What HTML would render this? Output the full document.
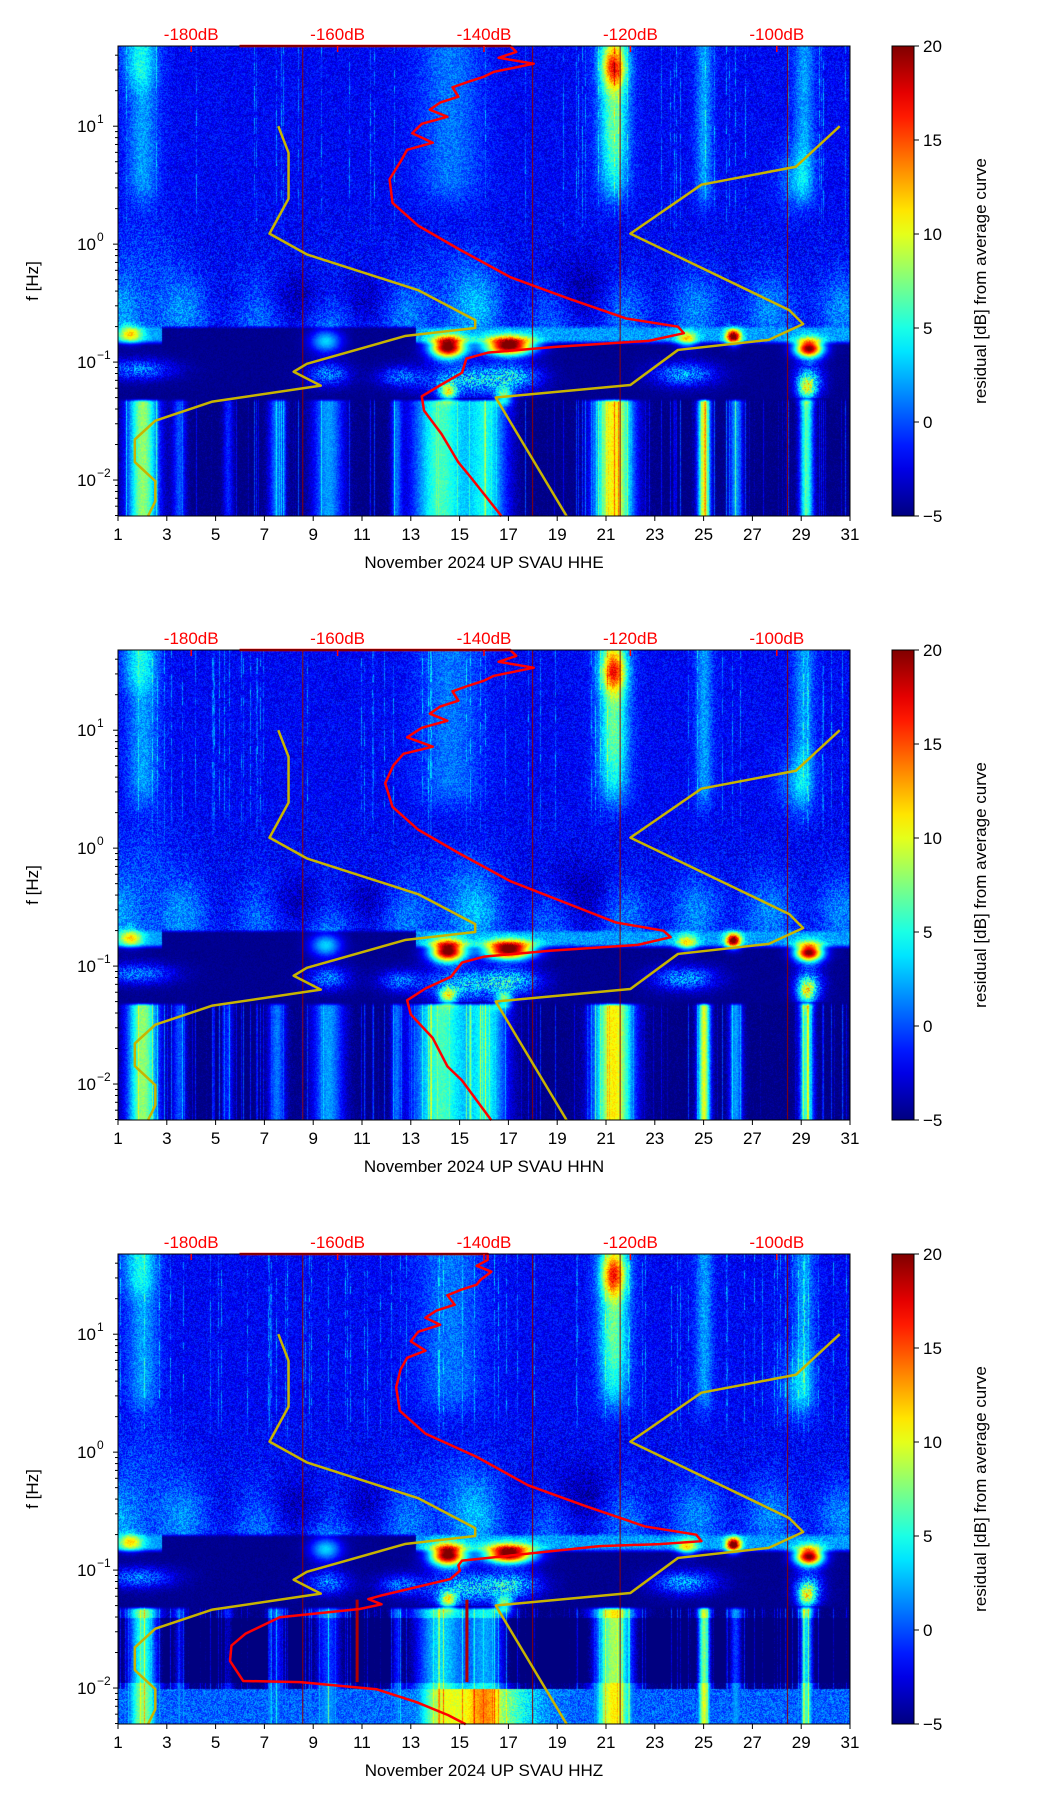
<!DOCTYPE html>
<html><head><meta charset="utf-8">
<style>
html,body{margin:0;padding:0;background:#fff;}
#wrap{position:relative;width:1052px;height:1806px;overflow:hidden;font-family:"Liberation Sans","DejaVu Sans",sans-serif;}
canvas{position:absolute;}
svg{position:absolute;left:0;top:0;}
</style></head>
<body>
<div id="wrap">
<canvas id="c0" width="732" height="470" style="left:118px;top:46px"></canvas>
<canvas id="c1" width="732" height="470" style="left:118px;top:650px"></canvas>
<canvas id="c2" width="732" height="470" style="left:118px;top:1254px"></canvas>
<svg id="s" width="1052" height="1806"></svg>
</div>
<script>
// ---- data ----
const panelTitles = ["November 2024 UP SVAU  HHE","November 2024 UP SVAU  HHN","November 2024 UP SVAU  HHZ"];
const dayTicks = [1,3,5,7,9,11,13,15,17,19,21,23,25,27,29,31];
const dbTicks = [-180,-160,-140,-120,-100];
const cbTicks = [-5,0,5,10,15,20];
const yDecades = [-2,-1,0,1];
const markerDays = [8.57,17.99,21.58,28.44];
const lowModelDb = [-168.1,-166.7,-166.7,-169.3,-164.2,-149.0,-141.2,-141.2,-150.8,-164.2,-166.0,-162.3,-177.1,-184.9,-187.7,-187.7,-184.9,-184.9,-185.9];
const lowModelLf = [1.0,0.774,0.386,0.089,-0.087,-0.39,-0.644,-0.711,-0.779,-1.015,-1.082,-1.20,-1.335,-1.497,-1.656,-1.848,-2.01,-2.18,-2.307];
const highModelDb = [-91.4,-97.4,-110.3,-120.0,-98.3,-96.4,-101.1,-113.5,-120.0,-138.4,-128.7];
const highModelLf = [1.0,0.656,0.504,0.089,-0.559,-0.677,-0.812,-0.897,-1.194,-1.30,-2.307];
const avgDb1 = [-173.4,-136.4,-135.6,-138,-133.2,-138.7,-140,-142,-144.3,-143.5,-146,-147.4,-145,-148.5,-149.8,-147,-150.5,-151.4,-152.9,-152.5,-149,-143.5,-136.4,-128.5,-120.6,-113.5,-112.7,-117.5,-130,-139.5,-142.4,-143,-145.8,-148.5,-148.2,-145.8,-143.5,-141.9,-137.6];
const avgLf1 = [1.68,1.68,1.63,1.58,1.53,1.46,1.42,1.38,1.33,1.25,1.2,1.14,1.08,1.02,0.94,0.86,0.8,0.70,0.55,0.35,0.157,-0.04,-0.28,-0.46,-0.63,-0.70,-0.755,-0.82,-0.87,-0.92,-0.97,-1.09,-1.19,-1.29,-1.41,-1.61,-1.85,-1.97,-2.307];
const avgDb2 = [-173.4,-136.4,-135.6,-138,-133.2,-138.7,-140,-142,-144.3,-143.5,-146,-147.4,-145,-148.5,-150.5,-147,-151,-152.4,-153.5,-152.5,-149,-143.5,-136.4,-129,-122,-115.5,-114.5,-119,-131,-140,-143,-144.5,-148,-150.5,-150,-147,-145,-143,-139];
const avgLf2 = avgLf1;
const avgDb3 = [-173.4,-139.5,-139.5,-141,-139,-140.5,-141,-143,-145,-144,-146.5,-148,-146,-149,-150,-148,-150.5,-151.4,-152,-151.5,-148,-141,-134,-126,-118,-111,-110.3,-116,-124.2,-143.0,-143.5,-143.3,-144.6,-154.2,-155.8,-154,-157,-167.9,-172.6,-174.5,-174.7,-172.9,-165.1,-154.7,-149.2,-144.9,-142.5];
const avgLf3 = [1.68,1.68,1.63,1.58,1.53,1.46,1.42,1.38,1.33,1.25,1.2,1.14,1.08,1.02,0.94,0.86,0.8,0.70,0.55,0.35,0.157,-0.04,-0.28,-0.46,-0.63,-0.70,-0.755,-0.78,-0.797,-0.92,-0.96,-1.006,-1.076,-1.218,-1.246,-1.29,-1.33,-1.40,-1.54,-1.64,-1.77,-1.94,-1.95,-2.01,-2.12,-2.23,-2.307];
const avgDb = [avgDb1,avgDb2,avgDb3];
const avgLf = [avgLf1,avgLf2,avgLf3];
const lowStripes = [[2,0.45,13],[3.5,0.2,5],[5.5,0.15,4],[7.5,0.25,6],[9.6,0.45,7],[12.4,0.15,5],[14.2,0.8,11],[16.1,0.6,9],[21.3,0.55,16],[25,0.18,15],[26.3,0.2,7],[29.2,0.2,11]];
const hotBlobs = [[14.5,-0.87,0.5,0.065,26],[17,-0.86,0.7,0.055,26],[29.3,-0.88,0.4,0.055,25],[26.2,-0.78,0.22,0.045,20],[24.3,-0.8,0.3,0.05,10],[1.5,-0.76,0.35,0.05,10],[9.5,-0.82,0.45,0.07,8],[14.5,-1.25,0.25,0.05,12],[16.8,-1.28,0.25,0.05,10],[29.2,-1.22,0.25,0.07,10]];
const midPatches = [[1.8,-1.06,1.0,0.06,7],[9.6,-1.1,0.6,0.07,7],[15.2,-1.15,1.2,0.1,9],[17.2,-1.12,0.8,0.08,8],[24.2,-1.1,0.9,0.07,8],[29.3,-1.15,0.4,0.1,9],[12.5,-1.12,0.6,0.06,6]];
const hiColumns = [[2,0.45,4],[14.6,0.9,3],[21.3,0.45,5],[25,0.25,4],[29.1,0.3,4]];

// ---- geometry ----
const PL=118, PW=732, PH=470, tops=[46,650,1254];
const LFTOP=1.68, LFBOT=-2.305;
const xDay = d => PL + (d-1)/30*PW;
const xDb = db => PL + (db+190)/100*PW;
const yLf = (lf,p) => tops[p] + (LFTOP-lf)/(LFTOP-LFBOT)*PH;

function jet(v){
  let t=(v+5)/25; t=Math.max(0,Math.min(1,t));
  const f=(a)=>Math.max(0,Math.min(1,a));
  return [f(1.5-Math.abs(4*t-3)),f(1.5-Math.abs(4*t-2)),f(1.5-Math.abs(4*t-1))].map(x=>Math.round(x*255));
}
function hash(a,b){let h=(a*374761393+b*668265263)|0;h=(h^(h>>>13))*1274126177|0;h=h^(h>>>16);return ((h>>>0)%10000)/10000;}
const g=(x,m,s)=>Math.exp(-((x-m)*(x-m))/(2*s*s));
const sm=(x,a,b)=>{let t=(x-a)/(b-a);t=Math.max(0,Math.min(1,t));return t*t*(3-2*t);};

function val(px,py,p){
  const d=1+px/PW*30, lf=LFTOP-py/PH*(LFTOP-LFBOT);
  const n=hash(px*7+p,py*13)*2-1, c=hash(px*31+p*7,5);
  let hi=-2.0+1.6*n;
  if(c>0.93) hi+=4*hash(px,py>>3);
  for(const s of hiColumns) hi+=s[2]*g(d,s[0],s[1])*sm(lf,0.1,0.6);
  hi+=10*g(d,21.3,0.35)*g(lf,1.5,0.12)+4*g(d,21.3,0.4)*sm(lf,0.3,1.0);
  hi+=3*g(d,28.7,0.5)*g(lf,0.55,0.2);
  hi+=3*g(d,1.8,0.5)*sm(lf,1.2,1.5);
  let mid=-2.0+2.0*n + 3.5*g(lf,-0.55,0.22)*(0.6+0.4*Math.sin(d*2.1)) + 2*g(d,15,1.2)*g(lf,-0.4,0.3) + 1.5*g(d,2,1);
  mid -= 2.5*g(lf,-0.45,0.15)*g(d,9.5,2.5);
  mid -= 2.5*g(d,19.5,1.5)*g(lf,-0.4,0.2);
  let v;
  if(lf>-0.68){ const w=sm(lf,-0.1,0.5); v=hi*w+mid*(1-w); }
  else if(lf>-0.85){
    v = d>13.2 ? 2+1.5*n : -4.6+0.4*n;
    if(d<2.8) v=2+n;
    v=v*sm(lf,-0.86,-0.8)+(-4.6)*(1-sm(lf,-0.86,-0.8));
    v=v*(1-sm(lf,-0.72,-0.68))+mid*sm(lf,-0.72,-0.68);
  } else if(lf>-1.3){
    v=-4.6+0.4*n;
    for(const b of midPatches) v+=b[4]*g(d,b[0],b[2])*g(lf,b[1],b[3])*(0.8+0.4*n);
  } else {
    v=-5;
    for(const s of lowStripes) v+=s[2]*g(d,s[0],s[1]);
    if(c>0.85) v+=5*(c-0.85)*6.6;
    v+=n*1.0;
    const w=sm(lf,-1.34,-1.3);
    v=v*(1-w)+(-4.6)*w;
    if(p==2 && lf<-2){ v=Math.max(v,0.5+2*n)+9*g(d,16,1.3); }
    if(p==2 && lf>-1.95 && lf<-1.4) v-=2.5;
  }
  for(const b of hotBlobs) v+=b[4]*g(d,b[0],b[2])*g(lf,b[1],b[3]);
  return v;
}
for(let p=0;p<3;p++){
  const cv=document.getElementById('c'+p), ctx=cv.getContext('2d');
  const im=ctx.createImageData(PW,PH);
  for(let y=0;y<PH;y++)for(let x=0;x<PW;x++){
    const c=jet(val(x,y,p)), i=(y*PW+x)*4;
    im.data[i]=c[0];im.data[i+1]=c[1];im.data[i+2]=c[2];im.data[i+3]=255;
  }
  ctx.putImageData(im,0,0);
}

// ---- SVG overlay ----
const S=document.getElementById('s'), NS='http://www.w3.org/2000/svg';
function el(t,a,txt){const e=document.createElementNS(NS,t);for(const k in a)e.setAttribute(k,a[k]);if(txt!==undefined)e.textContent=txt;S.appendChild(e);return e;}
const defs=el('defs',{});
const lg=document.createElementNS(NS,'linearGradient');lg.setAttribute('id','jet');lg.setAttribute('x1','0');lg.setAttribute('y1','1');lg.setAttribute('x2','0');lg.setAttribute('y2','0');
for(let i=0;i<=20;i++){const c=jet(-5+25*i/20);const st=document.createElementNS(NS,'stop');st.setAttribute('offset',i/20);st.setAttribute('stop-color','rgb('+c.join(',')+')');lg.appendChild(st);}
defs.appendChild(lg);

for(let p=0;p<3;p++){
  const T=tops[p], B=T+PH;
  for(const md of markerDays){
    const l=el('line',{x1:xDay(md),x2:xDay(md),y1:T,y2:B,stroke:'#8b0000','stroke-width':1.2,opacity:0.8});
    
  }
  if(p==2){
    for(const md of [10.8,15.3]){
      const l=el('line',{x1:xDay(md),x2:xDay(md),y1:yLf(-1.25,p),y2:yLf(-1.95,p),stroke:'#b00000','stroke-width':3});
      
    }
  }
  const mk=(dbs,lfs,name)=>{const pl=el('polyline',{points:dbs.map((db,i)=>xDb(db)+','+yLf(lfs[i],p)).join(' '),fill:'none',stroke:'#c8b400','stroke-width':2.5,'stroke-linejoin':'round'});
    };
  mk(lowModelDb,lowModelLf,'low-noise-model');
  mk(highModelDb,highModelLf,'high-noise-model');
  const av=el('polyline',{points:avgDb[p].map((db,i)=>xDb(db)+','+yLf(avgLf[p][i],p)).join(' '),fill:'none',stroke:'#ff0000','stroke-width':2.5,'stroke-linejoin':'round'});
  
  const fr=el('rect',{x:PL,y:T,width:PW,height:PH,fill:'none',stroke:'#000','stroke-width':1});
  
  for(const d of dayTicks){
    el('line',{x1:xDay(d),x2:xDay(d),y1:B,y2:B+5,stroke:'#000'});
    const t=el('text',{x:xDay(d),y:B+24,'font-size':17,'text-anchor':'middle',fill:'#000'},String(d));
    
  }
  const xt=el('text',{x:484,y:B+52,'font-size':17,'text-anchor':'middle',fill:'#000'},panelTitles[p]);
  
  for(const dec of yDecades){
    const y=yLf(dec,p);
    el('line',{x1:PL-5,x2:PL,y1:y,y2:y,stroke:'#000'});
    const t=el('text',{x:PL-22,y:y+6,'font-size':17,'text-anchor':'end',fill:'#000'},'10');
    
    el('text',{x:PL-21,y:y-3,'font-size':12,'text-anchor':'start',fill:'#000'},dec<0?'\u2212'+(-dec):String(dec));
  }
  for(let dec=-3;dec<=1;dec++)for(let k=2;k<=9;k++){
    const lf=dec+Math.log10(k); if(lf<LFBOT||lf>LFTOP)continue;
    const y=yLf(lf,p); el('line',{x1:PL-3,x2:PL,y1:y,y2:y,stroke:'#000'});
  }
  const yt=el('text',{x:0,y:0,'font-size':17,'text-anchor':'middle',fill:'#000',transform:'translate(38,'+(T+PH/2)+') rotate(-90)'},'f [Hz]');
  
  for(const db of dbTicks){
    el('line',{x1:xDb(db),x2:xDb(db),y1:T,y2:T+6,stroke:'#ff0000','stroke-width':1.5});
    const t=el('text',{x:xDb(db),y:T-6,'font-size':17,'text-anchor':'middle',fill:'#ff0000'},db+'dB');
    
  }
  const cb=el('rect',{x:892,y:T,width:22,height:PH,fill:'url(#jet)',stroke:'#000','stroke-width':1});
  
  for(const v of cbTicks){
    const y=T+PH-(v+5)/25*PH;
    el('line',{x1:914,x2:919,y1:y,y2:y,stroke:'#000'});
    const t=el('text',{x:923,y:y+6,'font-size':17,fill:'#000'},v<0?'\u2212'+(-v):String(v));
    
  }
  const cl=el('text',{x:0,y:0,'font-size':17,'text-anchor':'middle',fill:'#000',transform:'translate(986,'+(T+PH/2)+') rotate(-90)'},'residual [dB] from average curve');
  
}
</script>
</body></html>
